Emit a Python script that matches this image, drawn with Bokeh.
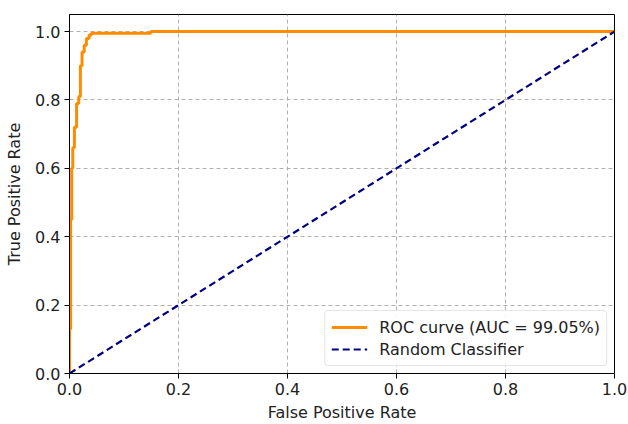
from bokeh.plotting import figure
from bokeh.models import FixedTicker, Legend, LegendItem, Range1d
from bokeh.embed import file_html
from bokeh.resources import INLINE

fpr = [0.0, 0.0, 0.002, 0.002, 0.004, 0.004, 0.006, 0.006, 0.009, 0.009, 0.013, 0.013,
       0.017, 0.017, 0.020, 0.020, 0.023, 0.023, 0.027, 0.027, 0.031, 0.031, 0.036, 0.036,
       0.040, 0.040, 0.149, 0.149, 1.0]
tpr = [0.0, 0.13, 0.13, 0.45, 0.45, 0.60, 0.60, 0.66, 0.66, 0.72, 0.72, 0.79,
       0.79, 0.81, 0.81, 0.90, 0.90, 0.94, 0.94, 0.96, 0.96, 0.98, 0.98, 0.99,
       0.99, 0.995, 0.995, 1.0, 1.0]
diag_x = [0.0, 1.0]
diag_y = [0.0, 1.0]
ticks = [0.0, 0.2, 0.4, 0.6, 0.8, 1.0]
tick_labels = ["0.0", "0.2", "0.4", "0.6", "0.8", "1.0"]
roc_label = "ROC curve (AUC = 99.05%)"
rand_label = "Random Classifier"

FONT = "DejaVu Sans"

p = figure(width=628, height=424, output_backend="svg", toolbar_location=None,
           x_range=Range1d(0, 1), y_range=Range1d(0, 1.05),
           min_border_left=69, min_border_right=14, min_border_top=14, min_border_bottom=50)

r1 = p.line(fpr, tpr, line_color="#ff8c00", line_width=3)
r2 = p.line(diag_x, diag_y, line_color="#000080", line_width=2.2, line_dash="7 4")

overrides = {t: l for t, l in zip(ticks, tick_labels)}
for ax in (p.xaxis, p.yaxis):
    ax.ticker = FixedTicker(ticks=ticks)
    ax.major_label_overrides = overrides
    ax.major_label_text_font = FONT
    ax.major_label_text_font_size = "16px"
    ax.major_label_text_color = "#222222"
    ax.axis_label_text_font = FONT
    ax.axis_label_text_font_size = "16px"
    ax.axis_label_text_font_style = "normal"
    ax.axis_label_text_color = "#222222"
    ax.axis_line_color = "black"
    ax.major_tick_line_color = "black"
    ax.major_tick_out = 5
    ax.major_tick_in = 0
    ax.minor_tick_line_color = None
    ax.major_label_standoff = 4

p.xaxis.axis_label = "False Positive Rate"
p.yaxis.axis_label = "True Positive Rate"
p.yaxis.axis_label_standoff = 8
p.xaxis.axis_label_standoff = 5

for g in (p.xgrid, p.ygrid):
    g.ticker = FixedTicker(ticks=ticks)
    g.grid_line_color = "#b0b0b0"
    g.grid_line_dash = "4 3"
    g.grid_line_width = 1

p.outline_line_color = "black"
p.outline_line_width = 1

legend = Legend(items=[LegendItem(label=roc_label, renderers=[r1]),
                       LegendItem(label=rand_label, renderers=[r2])],
                location="bottom_right")
legend.label_text_font = FONT
legend.label_text_font_size = "16px"
legend.label_text_color = "#222222"
legend.border_line_color = "#cccccc"
legend.border_line_width = 1
legend.border_radius = 4
legend.glyph_width = 36
legend.spacing = 2
legend.padding = 6
legend.margin = 7
legend.label_standoff = 12
legend.background_fill_alpha = 0.9
p.add_layout(legend)

open("out.html", "w").write(file_html(p, INLINE))
